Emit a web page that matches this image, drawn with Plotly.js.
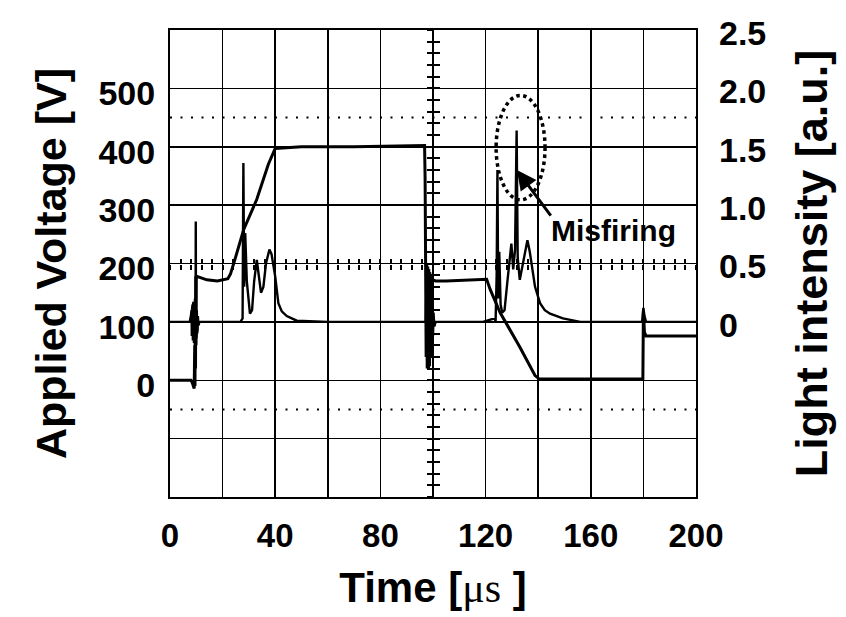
<!DOCTYPE html>
<html>
<head>
<meta charset="utf-8">
<script src="https://cdn.plot.ly/plotly-3.0.1.min.js"></script>
<style>html,body{margin:0;padding:0;background:#fff;}</style>
</head>
<body>
<div id="chart" style="width:846px;height:617px"></div>
<script>
// ---- data ----
// Applied voltage trace (time in µs, voltage in V)
const voltTime = [0, 8.0, 8.6, 9.2, 9.4, 9.5, 9.6, 9.7, 9.8, 9.9, 10.0, 10.2, 14, 18, 22, 23, 24.7, 28, 33, 37.4, 40, 50, 70, 96.8,
  97.0, 97.2, 97.4, 97.6, 97.8, 98.0, 98.2, 98.4, 98.6, 98.8, 99.0, 99.2, 99.4, 99.6, 99.9, 101, 105, 120.4, 121.7, 125.5, 133, 138.8, 140.5, 160,
  179.8, 180.0, 180.4, 181, 200];
const voltage = [0, 0, -6, -14, 60, -10, 140, 20, 178, 60, 176, 178, 172, 170, 174, 182, 207, 258, 310, 370, 397, 400, 400, 402,
  345, 250, 40, 200, 20, 195, 30, 190, 60, 185, 90, 182, 140, 176, 172, 170, 170, 173, 156, 116, 57, 8, 2, 2,
  2, 118, 82, 76, 76];

// Light intensity trace (time in µs, intensity in a.u.)
const lightTime = [0, 7.5, 8.0, 8.1, 8.2, 8.3, 8.4, 8.5, 8.6, 8.7, 8.8, 8.9, 9.0, 9.1, 9.2, 9.3, 9.4, 9.5, 9.6,
  9.7, 9.8, 9.9, 10.0, 10.1, 10.2, 10.3, 10.4, 10.5, 10.6, 10.8, 11.2, 20, 26.8, 27.6,
  27.9, 28.2, 28.6, 29.2, 30.4, 31.2, 32.0, 33.0, 33.8, 34.6, 35.5, 36.5, 37.8, 38.6, 40, 41.2, 42.5, 44.4,
  48.2, 60, 97.2, 97.4, 97.6, 97.8, 98.0, 98.2, 98.4, 98.6, 98.8, 99.0, 99.2, 99.4, 99.6, 99.8, 100.0, 100.2,
  100.5, 101, 119, 123.5, 123.8, 124.2,
  124.5, 124.8, 125.2, 125.7, 126.3, 127.2, 128.3, 129.3, 129.8, 130.5, 131.2, 131.8, 132.2, 133.0, 134.2,
  135.9, 136.8, 138.8, 140.7, 142.5, 144.5, 149.4, 156, 179.5, 180, 180.4, 181, 200];
const light = [0, 0, 0.06, -0.08, 0.1, -0.12, 0.12, -0.14, 0.15, -0.16, 0.16, -0.17, 0.17, -0.18, 0.16, -0.17,
  0.15, -0.16, 0.14, -0.15, 0.86, -0.14, 0.12, -0.13, 0.1, -0.1, 0.08, -0.07, 0.05, -0.03, 0, 0, 0, 0.03,
  1.36, 0.3, 0.76, 0.35, 0.07, 0.1, 0.35, 0.53, 0.4, 0.25, 0.3, 0.5, 0.62, 0.58, 0.39, 0.16, 0.09, 0.05,
  0.01, 0, 0, 0.2, -0.25, 0.35, -0.35, 0.45, -0.4, 0.42, -0.38, 0.35, -0.3, 0.28, -0.22, 0.18, -0.12, 0.08,
  -0.04, 0, 0, 0.03, 0.0, 0.4,
  1.30, 0.2, 0.6, 0.15, 0.08, 0.1, 0.35, 0.6, 0.67, 0.45, 0.62, 1.64, 0.55, 0.36, 0.5,
  0.70, 0.6, 0.30, 0.16, 0.1, 0.07, 0.03, 0, 0, 0.12, 0.05, 0, 0];

// axis ticks
const timeTicks = [0, 20, 40, 60, 80, 100, 120, 140, 160, 180, 200];
const timeLabels = ['0', '', '40', '', '80', '', '120', '', '160', '', '200'];
const voltTicks = [-200, -100, 0, 100, 200, 300, 400, 500, 600];
const voltLabels = ['', '', '0', '100', '200', '300', '400', '500', ''];
const lightTicks = [0, 0.5, 1.0, 1.5, 2.0, 2.5];
const lightLabels = ['0', '0.5', '1.0', '1.5', '2.0', '2.5'];

const tickFont = {family: 'Liberation Sans, Arial, sans-serif', size: 34, color: '#000', weight: 'bold'};
const xTickFont = {family: 'Liberation Sans, Arial, sans-serif', size: 33, color: '#000', weight: 'bold'};
const titleFont = {family: 'Liberation Sans, Arial, sans-serif', size: 43, color: '#000', weight: 'bold'};

const traces = [
  {x: voltTime, y: voltage, type: 'scatter', mode: 'lines', xaxis: 'x', yaxis: 'y',
   line: {color: '#000', width: 3}, showlegend: false, hoverinfo: 'skip'},
  {x: lightTime, y: light, type: 'scatter', mode: 'lines', xaxis: 'x', yaxis: 'y2',
   line: {color: '#000', width: 2.4}, showlegend: false, hoverinfo: 'skip'},
  {x: [], y: [], type: 'scatter', xaxis: 'x2', yaxis: 'y', showlegend: false},
  {x: [], y: [], type: 'scatter', xaxis: 'x3', yaxis: 'y', showlegend: false},
  {x: [], y: [], type: 'scatter', xaxis: 'x', yaxis: 'y3', showlegend: false},
  {x: [], y: [], type: 'scatter', xaxis: 'x', yaxis: 'y4', showlegend: false}
];

const centerX = {overlaying: 'x', anchor: 'free', position: 0.5, range: [0, 200], dtick: 4, tick0: 0,
  tickmode: 'linear', ticklen: 5, tickwidth: 2, tickcolor: '#000', showticklabels: false,
  showgrid: false, zeroline: false, showline: false, fixedrange: true};
const centerY = {overlaying: 'y', anchor: 'free', position: 0.5, range: [-200, 600], dtick: 20, tick0: 0,
  tickmode: 'linear', ticklen: 6, tickwidth: 2, tickcolor: '#000', showticklabels: false,
  showgrid: false, zeroline: false, showline: false, fixedrange: true};

const layout = {
  width: 846, height: 617,
  margin: {l: 170, r: 150, t: 30, b: 120, pad: 0},
  paper_bgcolor: '#fff', plot_bgcolor: '#fff',
  showlegend: false,
  xaxis: {range: [0, 200], tickmode: 'array', tickvals: timeTicks, ticktext: timeLabels,
    ticks: '', ticklabelstandoff: 8, tickfont: xTickFont,
    showgrid: true, gridcolor: '#000', gridwidth: 1.5, zeroline: false,
    showline: true, linecolor: '#000', linewidth: 2, mirror: true,
    title: {text: 'Time [<span style="font-family:Liberation Serif;font-weight:normal">μs</span> ]', font: {family: 'Liberation Sans, Arial, sans-serif', size: 42, color: '#000', weight: 'bold'}, standoff: 20},
    automargin: false, fixedrange: true},
  yaxis: {range: [-200, 600], tickmode: 'array', tickvals: voltTicks, ticktext: voltLabels,
    ticks: '', ticklabelstandoff: 6, ticklabelshift: 5, tickfont: tickFont,
    showgrid: true, gridcolor: '#000', gridwidth: 1.5, zeroline: false,
    showline: true, linecolor: '#000', linewidth: 2, mirror: true,
    title: {text: 'Applied Voltage [V]', font: titleFont, standoff: 18},
    automargin: false, fixedrange: true},
  yaxis2: {overlaying: 'y', side: 'right', range: [-1.5, 2.5], tickmode: 'array', tickvals: lightTicks,
    ticktext: lightLabels, ticks: '', ticklabelstandoff: 22, ticklabelshift: 3, tickfont: tickFont,
    showgrid: false, zeroline: false, showline: false,
    title: {text: 'Light intensity [a.u.]', font: {family: 'Liberation Sans, Arial, sans-serif', size: 45, color: '#000', weight: 'bold'}, standoff: 30},
    automargin: false, fixedrange: true},
  xaxis2: Object.assign({}, centerX, {ticks: 'outside'}),
  xaxis3: Object.assign({}, centerX, {ticks: 'inside'}),
  yaxis3: Object.assign({}, centerY, {ticks: 'outside'}),
  yaxis4: Object.assign({}, centerY, {ticks: 'inside'}),
  shapes: [
    {type: 'line', xref: 'x', yref: 'y', x0: 0, x1: 200, y0: 450, y1: 450,
     line: {color: '#000', width: 2, dash: '2px,8.5px'}},
    {type: 'line', xref: 'x', yref: 'y', x0: 0, x1: 200, y0: -50, y1: -50,
     line: {color: '#000', width: 2, dash: '2px,8.5px'}},
    {type: 'circle', xref: 'x', yref: 'y2', x0: 124.0, x1: 142.6, y0: 1.045, y1: 1.94,
     line: {color: '#000', width: 3.5, dash: 'dot'}}
  ],
  annotations: [
    {xref: 'x', yref: 'y2', x: 168.8, y: 0.78, text: 'Misfiring', showarrow: false,
     font: {family: 'Liberation Sans, Arial, sans-serif', size: 30, color: '#000', weight: 'bold'}},
    {xref: 'x', yref: 'y2', x: 131.9, y: 1.30, text: '', showarrow: true, ax: 35, ay: 47,
     arrowhead: 2, arrowsize: 1.3, arrowwidth: 3, arrowcolor: '#000'}
  ]
};

Plotly.newPlot('chart', traces, layout, {staticPlot: true, displayModeBar: false});
</script>
</body>
</html>
